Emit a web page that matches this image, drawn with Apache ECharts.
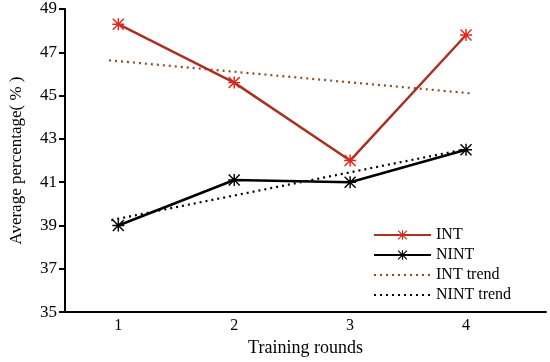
<!DOCTYPE html>
<html>
<head>
<meta charset="utf-8">
<script src="https://cdn.jsdelivr.net/npm/echarts@6/dist/echarts.min.js"></script>
<style>html,body{margin:0;padding:0;background:#fff;}#c{width:550px;height:362px;}</style>
</head>
<body>
<div id="c"></div>
<script>
const rounds = [1, 2, 3, 4];
const intValues = [48.3, 45.6, 42.0, 47.8];
const nintValues = [39.0, 41.1, 41.0, 42.5];
const intTrendX = [0.92, 4.05];
const intTrendY = [46.63, 45.1];
const nintTrendX = [0.94, 4.02];
const nintTrendY = [39.25, 42.55];
const yTicks = [35, 37, 39, 41, 43, 45, 47, 49];

const star = 'path://M8.8,0L11.2,0L11.2,20L8.8,20ZM0,8.8L20,8.8L20,11.2L0,11.2ZM0,1.7L1.7,0L20,18.3L18.3,20ZM18.3,0L20,1.7L1.7,20L0,18.3Z';
const font = 'Liberation Serif';
const pair = (xs, ys) => xs.map((x, i) => [x, ys[i]]);

const chart = echarts.init(document.getElementById('c'), null, {renderer: 'canvas'});
chart.setOption({
  animation: false,
  backgroundColor: '#fff',
  grid: {left: 61, right: 4, top: 9, bottom: 46},
  legend: {
    orient: 'vertical', left: 368, top: 222, itemWidth: 57, itemHeight: 12, itemGap: 4,
    textStyle: {fontFamily: font, fontSize: 16, color: '#000'},
    data: [
      {name: 'INT'},
      {name: 'NINT'},
      {name: 'INT trend', itemStyle: {opacity: 0}},
      {name: 'NINT trend', itemStyle: {opacity: 0}}
    ]
  },
  xAxis: {
    type: 'value', min: 0.54, max: 4.69,
    name: 'Training rounds', nameLocation: 'middle', nameGap: 22,
    nameTextStyle: {fontFamily: font, fontSize: 18, color: '#000'},
    axisLine: {onZero: false, lineStyle: {color: '#000', width: 2}},
    axisTick: {show: false},
    splitLine: {show: false},
    axisLabel: {customValues: rounds, fontFamily: font, fontSize: 16, color: '#000', margin: 6}
  },
  yAxis: {
    type: 'value', min: yTicks[0], max: yTicks[yTicks.length - 1], interval: 2,
    name: 'Average percentage( % )', nameLocation: 'middle', nameGap: 40,
    nameTextStyle: {fontFamily: font, fontSize: 17, color: '#000'},
    axisLine: {show: true, onZero: false, lineStyle: {color: '#000', width: 2}},
    axisTick: {show: true, length: 6, lineStyle: {color: '#000', width: 2}},
    splitLine: {show: false},
    axisLabel: {fontFamily: font, fontSize: 17, color: '#000', margin: 8}
  },
  series: [
    {
      name: 'INT', type: 'line', data: pair(rounds, intValues),
      symbol: star, symbolSize: 12, z: 4,
      lineStyle: {color: '#a83220', width: 2.5},
      itemStyle: {color: '#e0271b'}
    },
    {
      name: 'NINT', type: 'line', data: pair(rounds, nintValues),
      symbol: star, symbolSize: 12, z: 4,
      lineStyle: {color: '#000', width: 2.5},
      itemStyle: {color: '#000'}
    },
    {
      name: 'INT trend', type: 'line', data: pair(intTrendX, intTrendY),
      symbol: 'none', z: 3,
      lineStyle: {color: '#8b4b2a', width: 2.2, type: [2, 4]},
      itemStyle: {color: '#8b4b2a'}
    },
    {
      name: 'NINT trend', type: 'line', data: pair(nintTrendX, nintTrendY),
      symbol: 'none', z: 3,
      lineStyle: {color: '#000', width: 2.2, type: [2, 4]},
      itemStyle: {color: '#000'}
    }
  ]
});
</script>
</body>
</html>
